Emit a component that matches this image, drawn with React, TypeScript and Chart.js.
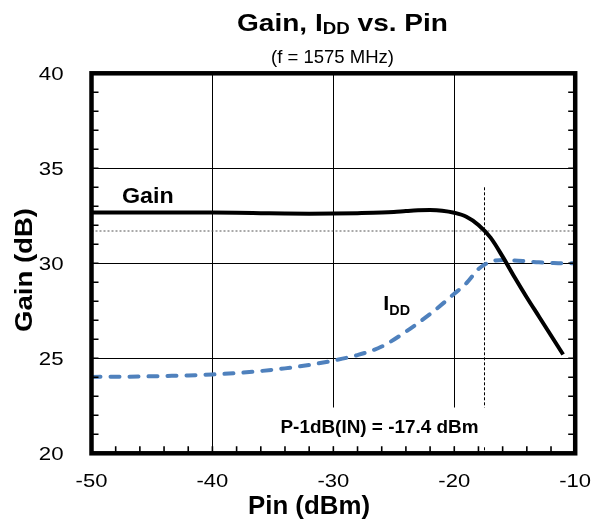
import React, { useEffect, useRef } from "react";
import { Chart, registerables } from "chart.js";

Chart.register(...registerables);

// ---- data ----
const gainPin = [-50, -48, -46, -44, -42, -40, -38, -36, -34, -32, -30, -28, -26, -25, -24, -23, -22, -21, -20, -19, -18, -17, -16, -15, -14, -13, -12, -11];
const gainDb = [32.67, 32.67, 32.67, 32.67, 32.67, 32.67, 32.66, 32.64, 32.62, 32.61, 32.62, 32.64, 32.67, 32.7, 32.75, 32.79, 32.8, 32.77, 32.66, 32.45, 32.02, 31.35, 30.35, 29.25, 28.2, 27.2, 26.2, 25.2];
const iddPin = [-50, -48, -46, -44, -42, -40, -38, -36, -34, -32, -30, -28, -26, -24, -22, -21, -20, -19, -18, -17, -16, -15, -14, -13, -12, -11, -10];
const iddValues = [24.02, 24.03, 24.04, 24.07, 24.1, 24.15, 24.22, 24.33, 24.47, 24.65, 24.88, 25.17, 25.62, 26.4, 27.33, 27.85, 28.4, 28.95, 29.7, 30.08, 30.17, 30.15, 30.1, 30.05, 30.02, 30.0, 30.0];
const p1dbPin = -17.5;
const p1dbGain = 31.7;
const p1dbLineTop = 34.0;
const xMin = -50, xMax = -10, xStep = 10, xMinorStep = 2;
const yMin = 20, yMax = 40, yStep = 5, yMinorStep = 1;
const titleMain = "Gain, I";
const titleSub = "DD";
const titleEnd = " vs. Pin";
const subtitle = "(f = 1575 MHz)";
const yTitle = "Gain (dB)";
const xTitle = "Pin (dBm)";
const gainLabel = "Gain";
const iddLabelMain = "I";
const iddLabelSub = "DD";
const p1dbLabel = "P-1dB(IN) = -17.4 dBm";

const FONT = '"Liberation Sans", Arial, Helvetica, sans-serif';

type Part = { text: string; font: string; dy?: number; w?: number };

function drawParts(
  ctx: CanvasRenderingContext2D,
  parts: Part[],
  x: number,
  y: number,
  align: "left" | "center" | "right",
  opts: { target?: number; sx?: number; rotate?: boolean }
) {
  let total = 0;
  for (const p of parts) {
    ctx.font = p.font;
    p.w = ctx.measureText(p.text).width;
    total += p.w;
  }
  const sx = opts.target ? opts.target / total : opts.sx ?? 1;
  ctx.save();
  ctx.translate(x, y);
  if (opts.rotate) ctx.rotate(-Math.PI / 2);
  ctx.scale(sx, 1);
  let cx = align === "center" ? -total / 2 : align === "right" ? -total : 0;
  ctx.textAlign = "left";
  ctx.textBaseline = "alphabetic";
  ctx.fillStyle = "#000";
  for (const p of parts) {
    ctx.font = p.font;
    ctx.fillText(p.text, cx, p.dy || 0);
    cx += p.w || 0;
  }
  ctx.restore();
}

const decorPlugin = {
  id: "decor",
  afterDatasetsDraw(chart: any) {
    const ctx: CanvasRenderingContext2D = chart.ctx;
    const { left, right, top, bottom } = chart.chartArea;
    const xs = chart.scales.x;
    const ys = chart.scales.y;

    // white box behind the P-1dB annotation
    ctx.save();
    ctx.fillStyle = "#fff";
    ctx.fillRect(268, 407.5, 222, 39);
    ctx.restore();

    // minor tick marks (inward)
    ctx.save();
    ctx.strokeStyle = "#000";
    ctx.lineWidth = 1.6;
    ctx.beginPath();
    for (let v = xMin + xMinorStep; v < xMax; v += xMinorStep) {
      const px = xs.getPixelForValue(v);
      ctx.moveTo(px, bottom);
      ctx.lineTo(px, bottom - 7);
    }
    for (let v = yMin + yMinorStep; v < yMax; v += yMinorStep) {
      const py = ys.getPixelForValue(v);
      ctx.moveTo(left, py);
      ctx.lineTo(left + 7, py);
      ctx.moveTo(right, py);
      ctx.lineTo(right - 7, py);
    }
    ctx.stroke();
    ctx.restore();

    // thick frame
    ctx.save();
    ctx.strokeStyle = "#000";
    ctx.lineWidth = 4.5;
    ctx.strokeRect(left, top, right - left, bottom - top);
    ctx.restore();

    // tick labels
    const tickFont = `19px ${FONT}`;
    for (const t of xs.ticks) {
      const px = xs.getPixelForValue(t.value);
      drawParts(ctx, [{ text: String(t.value), font: tickFont }], px, 487, "center", { sx: 1.16 });
    }
    for (const t of ys.ticks) {
      const py = ys.getPixelForValue(t.value);
      drawParts(ctx, [{ text: String(t.value), font: tickFont }], 63.5, py + 6.8, "right", { sx: 1.17 });
    }

    // titles
    drawParts(
      ctx,
      [
        { text: titleMain, font: `bold 24px ${FONT}` },
        { text: titleSub, font: `bold 16px ${FONT}`, dy: 3 },
        { text: titleEnd, font: `bold 24px ${FONT}` },
      ],
      342.5, 31, "center", { target: 211 }
    );
    drawParts(ctx, [{ text: subtitle, font: `18px ${FONT}` }], 332.5, 63, "center", { target: 123 });
    drawParts(ctx, [{ text: yTitle, font: `bold 24px ${FONT}` }], 32, 270, "center", { target: 124, rotate: true });
    drawParts(ctx, [{ text: xTitle, font: `bold 25px ${FONT}` }], 309, 514, "center", { target: 122 });

    // annotations
    drawParts(ctx, [{ text: gainLabel, font: `bold 22px ${FONT}` }], 122, 203, "left", { target: 51.7 });
    drawParts(
      ctx,
      [
        { text: iddLabelMain, font: `bold 21px ${FONT}` },
        { text: iddLabelSub, font: `bold 14px ${FONT}`, dy: 5 },
      ],
      383.3, 310, "left", { target: 26.7 }
    );
    drawParts(ctx, [{ text: p1dbLabel, font: `bold 18px ${FONT}` }], 379.5, 432.5, "center", { target: 198 });
  },
};

export default function App() {
  const ref = useRef<HTMLCanvasElement | null>(null);

  useEffect(() => {
    if (!ref.current) return;
    const gainData = gainPin.map((x, i) => ({ x, y: gainDb[i] }));
    const iddData = iddPin.map((x, i) => ({ x, y: iddValues[i] }));
    const chart = new Chart(ref.current, {
      type: "line",
      data: {
        datasets: [
          {
            label: "Gain",
            data: gainData,
            borderColor: "#000",
            borderWidth: 4,
            pointRadius: 0,
            cubicInterpolationMode: "monotone",
            order: 0,
          },
          {
            label: "IDD",
            data: iddData,
            borderColor: "#4F81BD",
            borderWidth: 4,
            borderDash: [9, 10],
            borderCapStyle: "round",
            pointRadius: 0,
            cubicInterpolationMode: "monotone",
            order: 1,
          },
          {
            label: "P-1dB level",
            data: [
              { x: xMin, y: p1dbGain },
              { x: xMax, y: p1dbGain },
            ],
            borderColor: "#555",
            borderWidth: 1,
            borderDash: [2, 2],
            pointRadius: 0,
            order: 2,
          },
          {
            label: "P-1dB input",
            data: [
              { x: p1dbPin, y: p1dbLineTop },
              { x: p1dbPin, y: yMin },
            ],
            borderColor: "#000",
            borderWidth: 1,
            borderDash: [3, 2],
            pointRadius: 0,
            order: 3,
          },
        ],
      } as any,
      options: {
        animation: false,
        responsive: false,
        devicePixelRatio: 1,
        layout: { padding: { left: 91.5, right: 19.8, top: 73.3, bottom: 70.7 } },
        plugins: { legend: { display: false }, tooltip: { enabled: false }, title: { display: false } },
        scales: {
          x: {
            type: "linear",
            min: xMin,
            max: xMax,
            ticks: { display: false, stepSize: xStep },
            grid: { color: "#000", lineWidth: 1, drawTicks: false },
            border: { display: false },
            afterFit: (s: any) => {
              s.height = 0;
            },
          },
          y: {
            type: "linear",
            min: yMin,
            max: yMax,
            ticks: { display: false, stepSize: yStep },
            grid: { color: "#000", lineWidth: 1, drawTicks: false },
            border: { display: false },
            afterFit: (s: any) => {
              s.width = 0;
            },
          },
        },
      } as any,
      plugins: [decorPlugin],
    });
    return () => chart.destroy();
  }, []);

  return (
    <div style={{ position: "fixed", left: 0, top: 0, width: 595, height: 524, background: "#fff" }}>
      <canvas ref={ref} width={595} height={524} style={{ display: "block" }} />
    </div>
  );
}
